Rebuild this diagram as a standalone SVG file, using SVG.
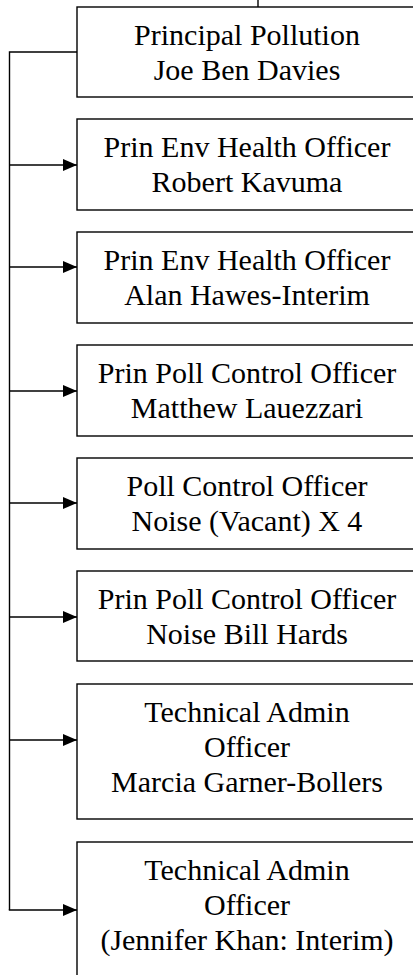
<svg xmlns="http://www.w3.org/2000/svg" width="413" height="975" viewBox="0 0 413 975">
<style>
  .box { fill: #ffffff; stroke: #000000; stroke-width: 1.4; }
  .t { font-family: "Liberation Serif", "Times New Roman", serif; font-size: 30px; fill: #000000; text-anchor: middle; }
  .c { fill: none; stroke: #000000; stroke-width: 1.4; }
</style>
<defs>
  <marker id="arr" markerUnits="userSpaceOnUse" markerWidth="14" markerHeight="12" refX="14" refY="6" orient="auto">
    <polygon points="0,0 14,6 0,12" fill="#000000"/>
  </marker>
</defs>
<rect width="413" height="975" fill="#ffffff"/>
<g id="connectors">
  <line class="c" x1="258" y1="0" x2="258" y2="7"/>
  <polyline class="c" points="77,52 9.5,52 9.5,910"/>
  <line class="c" x1="9.5" y1="165" x2="77" y2="165" marker-end="url(#arr)"/>
  <line class="c" x1="9.5" y1="267" x2="77" y2="267" marker-end="url(#arr)"/>
  <line class="c" x1="9.5" y1="391" x2="77" y2="391" marker-end="url(#arr)"/>
  <line class="c" x1="9.5" y1="503" x2="77" y2="503" marker-end="url(#arr)"/>
  <line class="c" x1="9.5" y1="617" x2="77" y2="617" marker-end="url(#arr)"/>
  <line class="c" x1="9.5" y1="740" x2="77" y2="740" marker-end="url(#arr)"/>
  <polyline class="c" points="9.5,909.3 9.5,910 77,910" marker-end="url(#arr)"/>
</g>
<g id="n1">
  <rect class="box" x="77" y="7" width="340" height="90"/>
  <text class="t" x="247" y="45">Principal Pollution</text>
  <text class="t" x="247" y="80">Joe Ben Davies</text>
</g>
<g id="n2">
  <rect class="box" x="77" y="119" width="340" height="91"/>
  <text class="t" x="247" y="157">Prin Env Health Officer</text>
  <text class="t" x="247" y="192">Robert Kavuma</text>
</g>
<g id="n3">
  <rect class="box" x="77" y="232" width="340" height="91"/>
  <text class="t" x="247" y="270">Prin Env Health Officer</text>
  <text class="t" x="247" y="305">Alan Hawes-Interim</text>
</g>
<g id="n4">
  <rect class="box" x="77" y="345" width="340" height="91"/>
  <text class="t" x="247" y="383">Prin Poll Control Officer</text>
  <text class="t" x="247" y="418">Matthew Lauezzari</text>
</g>
<g id="n5">
  <rect class="box" x="77" y="458" width="340" height="91"/>
  <text class="t" x="247" y="496">Poll Control Officer</text>
  <text class="t" x="247" y="531">Noise (Vacant) X 4</text>
</g>
<g id="n6">
  <rect class="box" x="77" y="571" width="340" height="90"/>
  <text class="t" x="247" y="609">Prin Poll Control Officer</text>
  <text class="t" x="247" y="644">Noise Bill Hards</text>
</g>
<g id="n7">
  <rect class="box" x="77" y="684" width="340" height="135"/>
  <text class="t" x="247" y="722">Technical Admin</text>
  <text class="t" x="247" y="757">Officer</text>
  <text class="t" x="247" y="792">Marcia Garner-Bollers</text>
</g>
<g id="n8">
  <rect class="box" x="77" y="842" width="340" height="140"/>
  <text class="t" x="247" y="880">Technical Admin</text>
  <text class="t" x="247" y="915">Officer</text>
  <text class="t" x="247" y="950">(Jennifer Khan: Interim)</text>
</g>
</svg>
